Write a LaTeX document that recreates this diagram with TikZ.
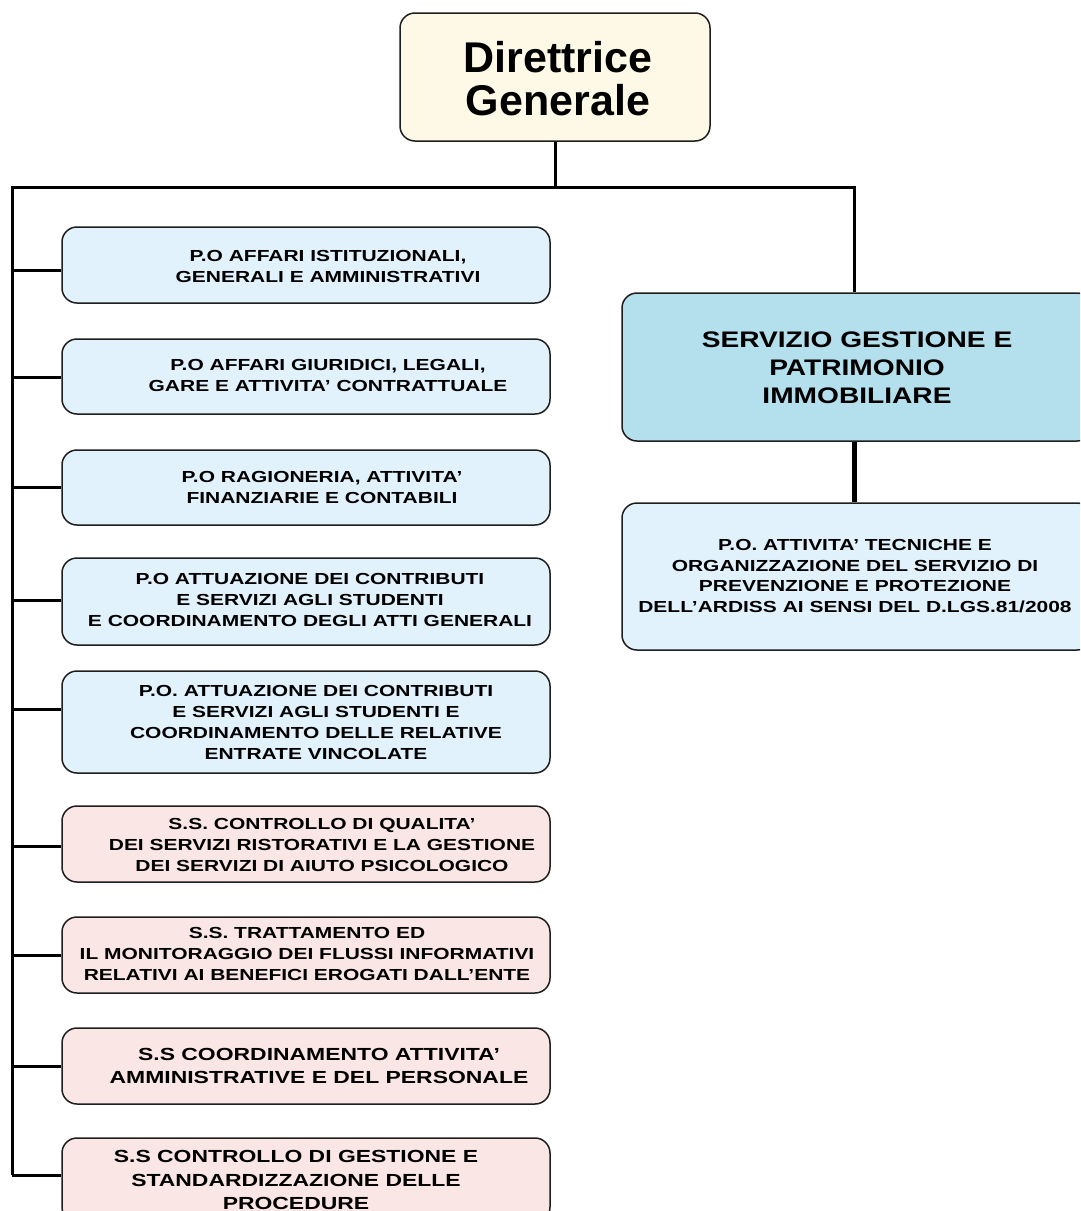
\documentclass[tikz,border=0pt]{standalone}
\usepackage{fontspec}
\setmainfont{Liberation Sans}
\newfontfamily\smallfont[FakeStretch=1.31]{Liberation Sans}
\newfontfamily\midfont[FakeStretch=1.25]{Liberation Sans}
\definecolor{cream}{HTML}{FEF9E6}
\definecolor{lblue}{HTML}{E1F2FC}
\definecolor{pinkbox}{HTML}{FAE6E4}
\definecolor{teal}{HTML}{B4DFEC}
\definecolor{edge}{HTML}{1E1E1E}
\begin{document}
\begin{tikzpicture}[x=1pt,y=-1pt,
  boxshape/.style={draw=edge, line width=1.5pt, rounded corners=15pt, inner sep=0pt},
  lbox/.style={boxshape, minimum width=488pt, minimum height=76pt},
  txt/.style={align=center, inner sep=0pt, font=\smallfont\bfseries\fontsize{16}{21}\selectfont},
  bigtxt/.style={align=center, inner sep=0pt, font=\smallfont\bfseries\fontsize{17.5}{23.5}\selectfont},
  conn/.style={line width=3pt, black},
]
\useasboundingbox (0,0) rectangle (1080,1211);
\clip (0,0) rectangle (1080,1211);

% top box
\node[boxshape, fill=cream, minimum width=310pt, minimum height=128pt] (dg) at (555,77) {};
\node[align=center, inner sep=0pt, font=\bfseries\fontsize{43}{43}\selectfont] (dgt) at (558,79) {Direttrice\\Generale};

% right boxes
\node[boxshape, fill=teal, minimum width=470pt, minimum height=148pt] (sg) at (857,367) {};
\node[align=center, inner sep=0pt, font=\midfont\bfseries\fontsize{22.5}{28}\selectfont] (sgt) at (857,368) {SERVIZIO GESTIONE E\\PATRIMONIO\\IMMOBILIARE};
\node[boxshape, fill=lblue, minimum width=470pt, minimum height=147pt] (po) at (857,576.5) {};
\node[txt, font=\smallfont\bfseries\fontsize{16}{20.7}\selectfont] (pot) at (855,576) {P.O. ATTIVITA’ TECNICHE E\\ORGANIZZAZIONE DEL SERVIZIO DI\\PREVENZIONE E PROTEZIONE\\DELL’ARDISS AI SENSI DEL D.LGS.81/2008};

% left boxes
\node[lbox, fill=lblue] (b1) at (306,265) {};
\node[txt] (t1) at (328,266) {P.O AFFARI ISTITUZIONALI,\\GENERALI E AMMINISTRATIVI};
\node[lbox, fill=lblue, minimum height=75pt] (b2) at (306,376.5) {};
\node[txt] (t2) at (328,375) {P.O AFFARI GIURIDICI, LEGALI,\\GARE E ATTIVITA’ CONTRATTUALE};
\node[lbox, fill=lblue, minimum height=75pt] (b3) at (306,487.5) {};
\node[txt] (t3) at (322,487) {P.O RAGIONERIA, ATTIVITA’\\FINANZIARIE E CONTABILI};
\node[lbox, fill=lblue, minimum height=87pt] (b4) at (306,601.5) {};
\node[txt] (t4) at (310,600) {P.O ATTUAZIONE DEI CONTRIBUTI\\E SERVIZI AGLI STUDENTI\\E COORDINAMENTO DEGLI ATTI GENERALI};
\node[lbox, fill=lblue, minimum height=102pt] (b5) at (306,722) {};
\node[txt] (t5) at (316,722) {P.O. ATTUAZIONE DEI CONTRIBUTI\\E SERVIZI AGLI STUDENTI E\\COORDINAMENTO DELLE RELATIVE\\ENTRATE VINCOLATE};
\node[lbox, fill=pinkbox] (b6) at (306,844) {};
\node[txt] (t6) at (322,845) {S.S. CONTROLLO DI QUALITA’\\DEI SERVIZI RISTORATIVI E LA GESTIONE\\DEI SERVIZI DI AIUTO PSICOLOGICO};
\node[lbox, fill=pinkbox] (b7) at (306,955) {};
\node[txt] (t7) at (307,954) {S.S. TRATTAMENTO ED\\IL MONITORAGGIO DEI FLUSSI INFORMATIVI\\RELATIVI AI BENEFICI EROGATI DALL’ENTE};
\node[lbox, fill=pinkbox] (b8) at (306,1066) {};
\node[bigtxt] (t8) at (319,1066) {S.S COORDINAMENTO ATTIVITA’\\AMMINISTRATIVE E DEL PERSONALE};
\node[lbox, fill=pinkbox, minimum height=84pt] (b9) at (306,1180) {};
\node[bigtxt] (t9) at (296,1180) {S.S CONTROLLO DI GESTIONE E\\STANDARDIZZAZIONE DELLE\\PROCEDURE};

% connectors
\coordinate (top) at (555,187);
\coordinate (tl) at (12,187);
\coordinate (tr) at (854,187);
\coordinate (bot) at (12,1175);
\draw[conn] (dg.south -| top) -- (top);
\draw[conn] (bot) -- (tl) -- (tr) -- (tr |- sg.north);
\draw[line width=5pt] (tr |- sg.south) -- (tr |- po.north);
\foreach \n/\y in {1/270,2/377,3/487,4/600,5/709,6/846,7/955,8/1066,9/1175}{
  \coordinate (j\n) at (12,\y);
  \draw[conn] (j\n) -- (j\n -| b\n.west);
}
\end{tikzpicture}
\end{document}
